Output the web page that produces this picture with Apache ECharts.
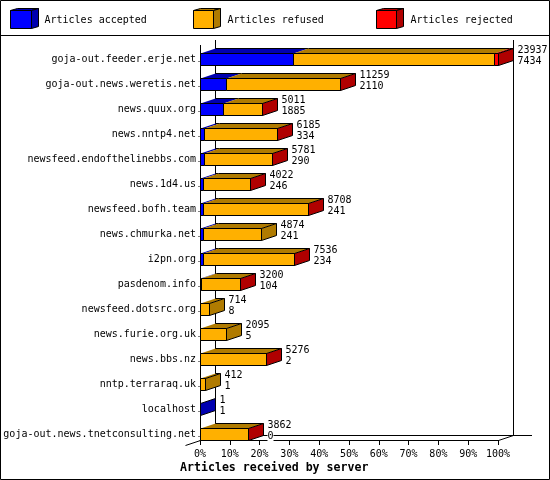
<!DOCTYPE html>
<html><head><meta charset="utf-8">
<style>html,body{margin:0;padding:0;background:#fff}#c{width:550px;height:480px}</style>
<script src="https://cdn.jsdelivr.net/npm/echarts@6/dist/echarts.min.js"></script>
</head><body><div id="c"></div>
<script>
const servers = ['goja-out.feeder.erje.net','goja-out.news.weretis.net','news.quux.org','news.nntp4.net','newsfeed.endofthelinebbs.com','news.1d4.us','newsfeed.bofh.team','news.chmurka.net','i2pn.org','pasdenom.info','newsfeed.dotsrc.org','news.furie.org.uk','news.bbs.nz','nntp.terraraq.uk','localhost','goja-out.news.tnetconsulting.net'];
const totals = [23937,11259,5011,6185,5781,4022,8708,4874,7536,3200,714,2095,5276,412,1,3862];
const accepted = [7434,2110,1885,334,290,246,241,241,234,104,8,5,2,1,1,0];
const refused = [16163,9119,3106,5836,5476,3761,8442,4633,7287,3081,706,2090,5264,411,0,3852];
const rejected = [340,30,20,15,15,15,25,0,15,15,0,0,10,0,0,10];
const maxTotal = 23937;

const FONT = '"DejaVu Sans Mono", monospace';
const DX = 15, DY = 5, BAR = 12;
const X0 = 200.5, X1 = 498.5, FRONT = 440.5, TOP = 45;
const C = {a:['#0000ff','#0000b0'], f:['#ffb000','#b07b00'], r:['#ff0000','#b00000']};

function segments(values, prior, later) {
  return values.map((v,i)=>{
    const start = prior.reduce((s,p)=>s+p[i],0);
    const isLast = later.every(l=>l[i]===0);
    return [start/maxTotal*100,(start+v)/maxTotal*100,i,(isLast && (v>0))?1:0,v];
  });
}
function renderer(col){
  return function(params,api){
    const row = api.value(2);
    const [xa,yc] = api.coord([api.value(0),row]);
    const [xb] = api.coord([api.value(1),row]);
    const last = api.value(3), v = api.value(4);
    if(!v) return {type:'group',children:[]};
    const t = yc-BAR/2+0.5, b = t+BAR;
    const x1 = Math.round(xa)+0.5, x2 = Math.round(xb)+0.5;
    const kids = [];
    kids.push({type:'polygon',shape:{points:[[x1,t],[x1+DX,t-DY],[x2+DX,t-DY],[x2,t]]},style:{fill:col[1],stroke:'#000',lineWidth:0}});
    kids.push({type:'line',shape:{x1:x1+DX,y1:t-DY,x2:x2+DX,y2:t-DY},style:{stroke:'#000',lineWidth:1}});
    kids.push({type:'rect',shape:{x:x1,y:t,width:x2-x1,height:BAR},style:{fill:col[0],stroke:'#000',lineWidth:1}});
    if(last){
      const font = '10px '+FONT, tx = x2+DX+4;
      kids.push({type:'polygon',shape:{points:[[x2,t],[x2+DX,t-DY],[x2+DX,b-DY],[x2,b]]},style:{fill:col[1],stroke:'#000',lineWidth:1}});
      kids.push({type:'text',style:{x:tx,y:yc-9,text:String(totals[row]),font,fill:'#000',verticalAlign:'middle',align:'left'}});
      kids.push({type:'text',style:{x:tx,y:yc+2,text:String(accepted[row]),font,fill:'#000',verticalAlign:'middle',align:'left',backgroundColor:'#fff'}});
    }
    return {type:'group',children:kids};
  };
}
function rowMarks(params,api){
  const yc = api.coord([0,api.value(0)])[1];
  return {type:'line',shape:{x1:X0-2,y1:yc+2.5,x2:X0-1,y2:yc+2.5},style:{stroke:'#000',lineWidth:1}};
}
function line(x1,y1,x2,y2){return {type:'line',z:1,shape:{x1,y1,x2,y2},style:{stroke:'#000',lineWidth:1}};}
function legendBox(x,w,col,label,tx){
  const t=10.5,b=28.5,r=x+w;
  return [
    {type:'polygon',z:1,shape:{points:[[x,t],[x+7,t-2],[r+7,t-2],[r,t]]},style:{fill:col[1],stroke:'#000',lineWidth:1}},
    {type:'polygon',z:1,shape:{points:[[r,t],[r+7,t-2],[r+7,b-2],[r,b]]},style:{fill:col[1],stroke:'#000',lineWidth:1}},
    {type:'rect',z:1,shape:{x,y:t,width:w,height:b-t},style:{fill:col[0],stroke:'#000',lineWidth:1}},
    {type:'text',z:1,style:{x:tx,y:20,text:label,font:'10px '+FONT,fill:'#000',verticalAlign:'middle'}}
  ];
}
const seriesDefs = [
  ['Articles accepted',C.a,segments(accepted,[],[refused,rejected])],
  ['Articles refused',C.f,segments(refused,[accepted],[rejected])],
  ['Articles rejected',C.r,segments(rejected,[accepted,refused],[])]
];
const chart = echarts.init(document.getElementById('c'),null,{renderer:'canvas'});
chart.setOption({
  animation:false,
  backgroundColor:'#fff',
  title:{text:'Articles received by server',left:180,top:462,padding:0,textStyle:{fontFamily:FONT,fontSize:11.6,fontWeight:'bold',color:'#000',lineHeight:12}},
  grid:{left:200,width:298,top:46.5,height:400,containLabel:false},
  xAxis:{type:'value',min:0,max:100,interval:10,offset:-6.5,
    axisLine:{show:true,lineStyle:{color:'#000',width:1}},
    axisTick:{show:true,length:5,lineStyle:{color:'#000',width:1}},
    splitLine:{show:false},
    axisLabel:{formatter:v=>v+'%',fontFamily:FONT,fontSize:10,color:'#000',margin:9,showMinLabel:true,showMaxLabel:true,hideOverlap:false}},
  yAxis:{type:'category',inverse:true,data:servers,
    axisLine:{show:false},axisTick:{show:false},splitLine:{show:false},
    axisLabel:{fontFamily:FONT,fontSize:10,color:'#000',margin:4,interval:0,padding:[2,0,0,0]}},
  graphic:{elements:[
    {type:'rect',z:1,shape:{x:0.5,y:0.5,width:549,height:479},style:{fill:'none',stroke:'#000',lineWidth:1}},
    line(0,35.5,550,35.5),
    line(X0,TOP,X0,FRONT),
    line(X0,FRONT,X1,FRONT),
    line(X0+DX,40,X0+DX,FRONT-DY),
    line(X1+DX,40,X1+DX,FRONT-DY),
    line(X0+DX,FRONT-DY,532,FRONT-DY),
    line(X1,FRONT,X1+DX,FRONT-DY),
    line(X0-15,FRONT+5,X0,FRONT),
    ...legendBox(10.5,21,C.a,'Articles accepted',44.5),
    ...legendBox(193.5,20,C.f,'Articles refused',227.5),
    ...legendBox(376.5,20,C.r,'Articles rejected',410.5)
  ]},
  series:[
    {name:'Row ticks',type:'custom',z:5,coordinateSystem:'cartesian2d',encode:{x:1,y:0},silent:true,
      data:servers.map((s,i)=>[i,0]),renderItem:rowMarks},
    ...seriesDefs.map(([name,col,data])=>({name,type:'custom',z:5,coordinateSystem:'cartesian2d',silent:true,
      encode:{x:[0,1],y:2},clip:false,data,renderItem:renderer(col)}))
  ]
});
</script></body></html>
